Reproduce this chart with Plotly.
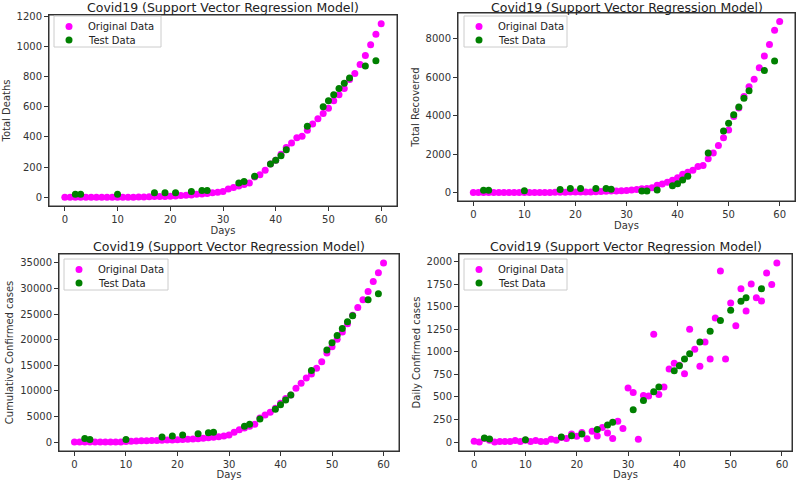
import plotly.graph_objects as go
from plotly.subplots import make_subplots

# Data
days = list(range(61))
test_days = [2, 3, 10, 17, 19, 21, 24, 26, 27, 33, 34, 36, 39, 40, 41, 42, 46, 49, 50, 51, 52, 53, 54, 57, 59]

deaths_orig = [0, 0, 0, 0, 0, 0, 0, 0, 0, 0, 0, 1, 1, 1, 2, 2, 3, 5, 6, 6, 7,
               8, 12, 14, 15, 20, 22, 25, 30, 33, 38, 55, 65, 75, 85, 95, 135, 150, 180, 220, 245,
               285, 330, 360, 395, 405, 445, 485, 520, 555, 590, 640, 680, 720, 780, 820, 880, 940, 1010, 1080, 1150]
deaths_test = [20, 20, 20, 30, 30, 30, 38, 45, 45, 95, 105, 140, 220, 245, 275, 315, 470, 600, 640, 680, 720, 755, 790, 870, 905]

recovered_orig = [0, 0, 0, 0, 0, 0, 0, 0, 0, 0, 0, 0, 0, 0, 0, 0, 5, 10, 15, 20, 20,
                  25, 25, 30, 40, 50, 60, 70, 80, 90, 100, 130, 160, 190, 210, 250, 370, 440, 530, 630, 770,
                  950, 1050, 1150, 1350, 1400, 1750, 2050, 2450, 2850, 3250, 3950, 4400, 5000, 5500, 5900, 6500, 7100, 7700, 8450, 8900]
recovered_test = [120, 120, 90, 160, 200, 200, 200, 200, 170, 80, 80, 130, 350, 450, 650, 850, 2050, 3200, 3600, 4050, 4450, 4900, 5300, 6350, 6850]

confirmed_orig = [0, 0, 0, 0, 0, 0, 0, 0, 0, 0, 100, 150, 200, 230, 260, 290, 320, 350, 380, 420, 460,
                  500, 550, 600, 650, 750, 850, 950, 1050, 1200, 1400, 1900, 2400, 2750, 3100, 3500, 4700, 5300, 5800, 6600, 7600,
                  8500, 9200, 10500, 11500, 12500, 13300, 14400, 15700, 17400, 18600, 20100, 21500, 23100, 24800, 26300, 27800, 29400, 31400, 33100, 35000]
confirmed_test = [700, 500, 500, 1000, 1200, 1400, 1600, 1800, 1900, 3100, 3500, 4500, 6400, 7300, 8200, 9200, 14000, 18000, 19400, 20800, 22200, 23500, 24700, 27800, 29000]

daily_days = list(range(60))
daily_orig = [8, 0, 40, 20, 0, 7, 7, 7, 18, 7, 20, 7, 18, 7, 7, 30, 20, 50, 40, 90,
              63, 105, 37, 120, 67, 160, 100, 40, 230, 150, 600, 550, 30, 517, 510, 1195, 527, 610, 810, 873,
              850, 758, 1250, 1028, 840, 1110, 920, 1375, 1895, 920, 1540, 1290, 1700, 1452, 1752, 1600, 1563, 1875, 1745, 1985]
daily_test_days = [2, 3, 10, 17, 19, 21, 24, 26, 27, 31, 33, 35, 36, 39, 40, 41, 42, 44, 46, 48, 50, 52, 53, 56]
daily_test = [45, 35, 25, 55, 70, 90, 140, 190, 220, 357, 460, 557, 610, 790, 846, 920, 980, 1110, 1229, 1348, 1460, 1560, 1600, 1700]

series_names = ["Original Data", "Test Data"]
series_colors = ["#ff00ff", "#008000"]

W, H = 796, 480
FONT = "DejaVu Sans"
TITLE = "Covid19 (Support Vector Regression Model)"

# panel boxes in pixels: (left, right, top, bottom)
boxes = [(49, 397, 15, 206), (458, 795, 13, 201), (59, 399, 254, 451), (459, 792, 254, 451)]
title_y = [7.5, 7.5, 247, 247]
# legend boxes in pixels: (left, top, width)
legend_boxes = [(54, 16, 107), (464, 16, 103), (64, 259, 104), (464, 259, 103)]

panels = [
    (days, deaths_orig, test_days, deaths_test, "Total Deaths", 200),
    (days, recovered_orig, test_days, recovered_test, "Total Recovered", 2000),
    (days, confirmed_orig, test_days, confirmed_test, "Cumulative Confirmed cases", 5000),
    (daily_days, daily_orig, daily_test_days, daily_test, "Daily Confirmed cases", 250),
]


def add_legend(fig, left, top, width):
    # matplotlib-style legend: thin grey frame, compact rows
    fig.add_shape(type="rect", xref="paper", yref="paper",
                  x0=left / W, x1=(left + width) / W, y0=1 - (top + 31) / H, y1=1 - top / H,
                  line=dict(color="#cccccc", width=1), fillcolor="rgba(255,255,255,0.8)", layer="above")
    for k, (name, color) in enumerate(zip(series_names, series_colors)):
        cy = 1 - (top + 10.5 + 13.5 * k) / H
        fig.add_shape(type="circle", xref="paper", yref="paper",
                      xsizemode="pixel", ysizemode="pixel", xanchor=(left + 15) / W, yanchor=cy,
                      x0=-3.5, x1=3.5, y0=-3.5, y1=3.5,
                      line=dict(color=color, width=0), fillcolor=color, layer="above")
        fig.add_annotation(text=name, x=(left + 32) / W, y=cy, xref="paper", yref="paper",
                           xanchor="left", yanchor="middle", showarrow=False,
                           font=dict(size=10, color="#222"))


fig = make_subplots(rows=2, cols=2)

for i, (x1, y1, x2, y2, ylabel, dtick) in enumerate(panels):
    row, col = i // 2 + 1, i % 2 + 1
    for xv, yv, name, color in zip([x1, x2], [y1, y2], series_names, series_colors):
        fig.add_trace(go.Scatter(x=xv, y=yv, mode="markers", name=name, showlegend=False,
                                 marker=dict(color=color, size=7)), row=row, col=col)

    l, r, t, b = boxes[i]
    xs = x1 + x2
    ys = y1 + y2
    xpad = 0.05 * (max(xs) - min(xs))
    ypad = 0.05 * (max(ys) - min(ys))
    axis_common = dict(showline=True, mirror=True, linecolor="#333", linewidth=1,
                       ticks="outside", ticklen=4, tickcolor="#333", showgrid=False,
                       zeroline=False, automargin=False, tickformat="d",
                       tickfont=dict(size=10, color="#333"))
    fig.update_xaxes(domain=[l / W, r / W], range=[min(xs) - xpad, max(xs) + xpad],
                     dtick=10, tick0=0, title=dict(text="Days", font=dict(size=10, color="#333"), standoff=2),
                     **axis_common, row=row, col=col)
    fig.update_yaxes(domain=[1 - b / H, 1 - t / H], range=[min(ys) - ypad, max(ys) + ypad],
                     dtick=dtick, tick0=0, title=dict(text=ylabel, font=dict(size=10, color="#333"), standoff=4),
                     **axis_common, row=row, col=col)

    # axes frame
    fig.add_shape(type="rect", xref="x domain", yref="y domain", x0=0, x1=1, y0=0, y1=1,
                  line=dict(color="#333", width=1), row=row, col=col)

    fig.add_annotation(text=TITLE, x=(l + r) / 2 / W, y=1 - title_y[i] / H, xref="paper", yref="paper",
                       xanchor="center", yanchor="middle", showarrow=False, borderpad=0,
                       font=dict(size=12.5, color="#222"))

    add_legend(fig, *legend_boxes[i])

fig.update_layout(
    width=W, height=H,
    margin=dict(l=0, r=0, t=0, b=0),
    paper_bgcolor="white", plot_bgcolor="white",
    font=dict(family=FONT, color="#333"),
    showlegend=False,
)

# the page body has a default margin, drop it so the figure sits at the corner
fig.write_html("out.html", config={"displayModeBar": False},
               post_script="document.body.style.margin='0';")
